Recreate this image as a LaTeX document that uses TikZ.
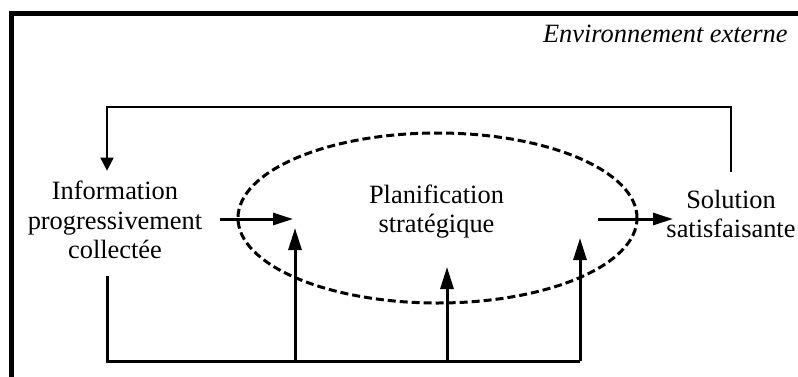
\documentclass[tikz,border=0pt]{standalone}
\usepackage{fontspec}
\setmainfont{Liberation Serif}
\usetikzlibrary{shapes.geometric,arrows.meta}
\begin{document}
\begin{tikzpicture}[x=0.5pt,y=-0.5pt,
  txt/.style={align=center,inner sep=0pt,font=\fontsize{13.2pt}{14.75pt}\selectfont},
  thinln/.style={line width=0.8pt},
  thickln/.style={line width=1.5pt},
  thinarr/.style={thinln,-{Triangle[length=6.5pt,width=6.5pt]}},
  thickarr/.style={thickln,-{Triangle[length=10pt,width=6pt]}},
  uparr/.style={thickln,-{Triangle[length=11pt,width=6.5pt]}},
  oval/.style={ellipse,draw,line width=1.5pt,dash pattern=on 4pt off 2pt,inner sep=0pt,minimum width=199.5pt,minimum height=85pt}]
\useasboundingbox (0,0) rectangle (798,376);
% frame
\draw[line width=2.5pt] (11.5,390) -- (11.5,13.5) -- (810,13.5);
\node[txt,anchor=base east,font=\fontsize{13.2pt}{14.75pt}\selectfont\itshape] (env) at (788,42) {Environnement externe};
% ellipse and texts
\node[oval] (ell) at (437.5,218) {};
\node[txt] (info) at (115,220) {Information\\progressivement\\collectée};
\node[txt] (plan) at (436.5,211.5) {Planification\\stratégique};
\node[txt] (sol) at (731,214) {Solution\\satisfaisante};
% feedback loop on top
\coordinate (topR) at (731,107);
\coordinate (topL) at (107,107);
\draw[thinarr,shorten <=9pt,shorten >=5pt] (sol.north) -- (topR) -- (topL) -- (info.north -| topL);
% horizontal arrows
\coordinate (a1s) at (220,219);
\coordinate (a1e) at (293,219);
\coordinate (a2s) at (598,219);
\coordinate (a2e) at (673,219);
\draw[thickarr] (a1s) -- (a1e);
\draw[thickarr] (a2s) -- (a2e);
% bottom distribution
\coordinate (botL) at (107,361);
\coordinate (b1) at (295,361);
\coordinate (b2) at (447,361);
\coordinate (botR) at (580,361);
\coordinate (u1) at (295,228);
\coordinate (u2) at (447,267);
\coordinate (u3) at (580,238);
\draw[thickln,shorten <=8.5pt,line join=miter] (info.south -| botL) -- (botL) -- (botR);
\draw[uparr] (b1) -- (u1);
\draw[uparr] (b2) -- (u2);
\draw[uparr] (botR) -- (u3);
\end{tikzpicture}
\end{document}
